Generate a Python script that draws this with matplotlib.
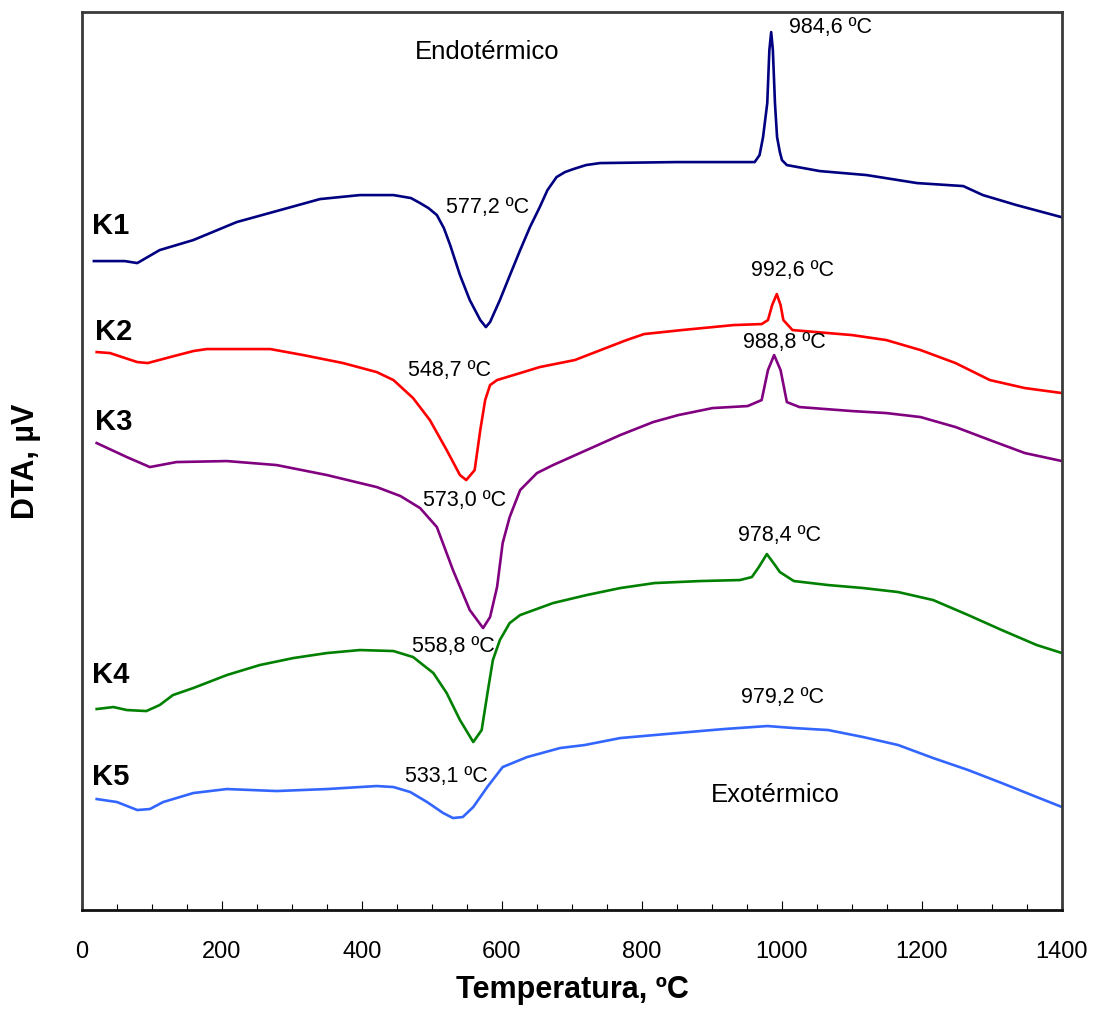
import numpy as np
import matplotlib
matplotlib.use("Agg")
import matplotlib.pyplot as plt
from matplotlib.ticker import MultipleLocator

plt.rcParams['font.family'] = ['Liberation Sans', 'DejaVu Sans']

# Temperatura (ºC) y señal DTA (unidades arbitrarias)
t_k1 = [17, 61, 79, 111, 159, 221, 278, 340, 397, 445, 470, 483, 495, 507, 517, 526, 540, 554,
        569, 577, 583, 597, 612, 626, 640, 654, 665, 678, 690, 702, 720, 740, 850, 961, 968,
        973, 979, 982, 984.6, 987, 990, 993, 997, 1000, 1007, 1054, 1121, 1193, 1259, 1287,
        1335, 1399]
v_k1 = [649, 649, 647, 660, 670, 688, 699, 711, 715, 715, 712, 707, 702, 695, 682, 665, 635, 610,
        590, 583, 588, 610, 636, 660, 683, 703, 720, 733, 738, 741, 745, 747, 748, 748, 755,
        773, 807, 860, 878, 860, 807, 773, 758, 750, 745, 739, 735, 727, 724, 715,
        705, 693]

t_k2 = [21, 40, 79, 94, 126, 159, 178, 269, 316, 373, 421, 445, 473, 497, 521, 540, 549, 561,
        569, 576, 583, 593, 626, 654, 704, 778, 803, 857, 931, 971, 980, 986, 992.6, 998, 1002,
        1015, 1100, 1149, 1198, 1248, 1297, 1347, 1400]
v_k2 = [558, 557, 548, 547, 553, 559, 561, 561, 555, 547, 538, 530, 512, 490, 460, 435, 430, 440,
        480, 510, 525, 530, 537, 543, 550, 570, 576, 580, 585, 586, 590, 605, 616, 605, 590,
        580, 575, 570, 560, 547, 530, 522, 517]

t_k3 = [21, 64, 97, 135, 207, 278, 350, 421, 455, 483, 507, 530, 554, 573, 583, 593, 601, 611,
        626, 650, 673, 721, 769, 816, 852, 901, 951, 971, 980, 988.8, 998, 1007, 1025, 1100,
        1149, 1198, 1248, 1297, 1347, 1400]
v_k3 = [467, 453, 443, 448, 449, 445, 435, 423, 414, 402, 383, 340, 300, 282, 293, 323, 367, 393,
        420, 437, 445, 460, 475, 488, 495, 502, 504, 510, 540, 555, 540, 508, 503, 499,
        497, 493, 483, 470, 457, 449]

t_k4 = [21, 45, 64, 92, 111, 130, 159, 207, 254, 302, 350, 397, 445, 473, 502, 521, 540, 559,
        571, 580, 587, 597, 611, 626, 673, 721, 769, 818, 883, 940, 957, 967, 978.4, 990, 997,
        1017, 1066, 1116, 1166, 1216, 1266, 1314, 1364, 1400]
v_k4 = [201, 203, 200, 199, 205, 215, 222, 235, 245, 252, 257, 260, 259, 253, 237, 217, 190, 168,
        180, 220, 250, 270, 287, 295, 307, 315, 322, 327, 329, 330, 333, 343, 356, 345, 338,
        329, 325, 322, 318, 310, 295, 280, 265, 257]

t_k5 = [21, 50, 79, 97, 116, 159, 207, 278, 350, 421, 445, 469, 493, 516, 530, 544, 559, 579,
        601, 636, 683, 718, 769, 818, 867, 917, 979.2, 1017, 1066, 1116, 1166, 1216, 1266, 1314,
        1364, 1400]
v_k5 = [111, 108, 100, 101, 108, 117, 121, 119, 121, 124, 123, 118, 108, 97, 92, 93, 103, 123,
        143, 153, 162, 165, 172, 175, 178, 181, 184, 182, 180, 173, 165, 152, 140, 127,
        113, 103]

series = [
    ("K1", t_k1, v_k1, "#000080"),
    ("K2", t_k2, v_k2, "#ff0000"),
    ("K3", t_k3, v_k3, "#800080"),
    ("K4", t_k4, v_k4, "#008000"),
    ("K5", t_k5, v_k5, "#3366ff"),
]

# etiquetas de las muestras (posición en T, DTA)
k_label_pos = [(14, 684), (18, 578), (18, 488), (14, 235), (14, 133)]

# temperaturas de pico: texto, x, y
picos = [
    ("984,6 ºC", 1010, 883, "left"),
    ("577,2 ºC", 580, 703, "center"),
    ("992,6 ºC", 1015, 640, "center"),
    ("548,7 ºC", 525, 540, "center"),
    ("988,8 ºC", 1004, 568, "center"),
    ("573,0 ºC", 547, 410, "center"),
    ("978,4 ºC", 996, 375, "center"),
    ("558,8 ºC", 530, 264, "center"),
    ("979,2 ºC", 1001, 213, "center"),
    ("533,1 ºC", 521, 134, "center"),
]

fig = plt.figure(figsize=(10.93, 10.16), dpi=100)
ax = fig.add_axes([0.075, 0.1043, 0.8966, 0.8838])

for name, t, v, c in series:
    ax.plot(t, v, color=c, lw=1.9)

for (name, _, _, _), (x, y) in zip(series, k_label_pos):
    ax.text(x, y, name, fontsize=21, fontweight='bold', ha='left', va='center')

for txt, x, y, ha in picos:
    ax.text(x, y, txt, fontsize=15.5, ha=ha, va='center')

ax.text(579, 858, "Endotérmico", fontsize=18.5, ha='center', va='center')
ax.text(991, 115, "Exotérmico", fontsize=18.5, ha='center', va='center')

ax.set_xlim(0, 1400)
ax.set_ylim(0, 898)
ax.xaxis.set_major_locator(MultipleLocator(200))
ax.xaxis.set_minor_locator(MultipleLocator(50))
ax.set_yticks([])
ax.tick_params(axis='x', which='major', direction='in', length=6.5, width=0.8,
               pad=22, labelsize=17)
ax.tick_params(axis='x', which='minor', direction='in', length=4.3, width=0.8)

for s in ax.spines.values():
    s.set_linewidth(2.0)
    s.set_color('#3a3a3a')
ax.spines['bottom'].set_color('#111111')

ax.set_xlabel('Temperatura, ºC', fontsize=22, fontweight='bold')
ax.xaxis.set_label_coords(0.5, -0.072)
ax.set_ylabel('DTA, µV', fontsize=22, fontweight='bold')
ax.yaxis.label.set_va('center')
ax.yaxis.set_label_coords(-0.057, 0.5)

fig.savefig('out.png', dpi=100)
